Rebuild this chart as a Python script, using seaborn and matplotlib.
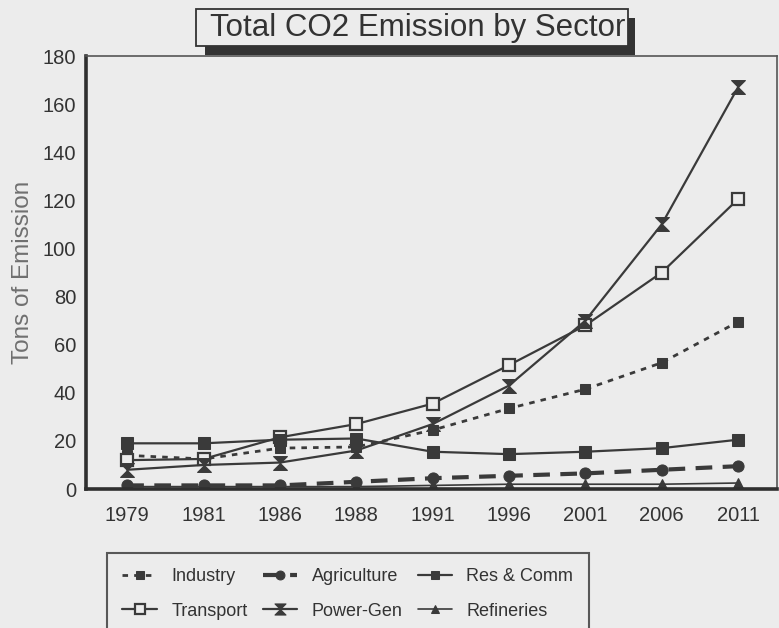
import numpy as np
import pandas as pd
import matplotlib
matplotlib.use('Agg')
import matplotlib.pyplot as plt
from matplotlib.patches import Rectangle
from matplotlib.path import Path
import seaborn as sns

# values
years = ['1979', '1981', '1986', '1988', '1991', '1996', '2001', '2006', '2011']
industry = [14, 12.5, 17, 17.5, 24.5, 33.5, 41.5, 52.5, 69.5]
agriculture = [1.5, 1.5, 1.5, 3, 4.5, 5.5, 6.5, 8, 9.5]
res_comm = [19, 19, 20.5, 21, 15.5, 14.5, 15.5, 17, 20.5]
transport = [12, 12.5, 21.5, 27, 35.5, 51.5, 68, 90, 120.5]
power_gen = [8, 10, 11, 16, 27, 43, 70, 110, 167]
refineries = [1, 1, 1, 1, 1.5, 2, 2, 2, 2.5]
y_ticks = [0, 20, 40, 60, 80, 100, 120, 140, 160, 180]

BG = '#ececec'
INK = '#3a3a3a'

sns.set_style('white')
plt.rcParams['font.family'] = ['Liberation Sans', 'DejaVu Sans']

hourglass = Path([(-1, 1), (1, 1), (-1, -1), (1, -1), (-1, 1)],
                 [Path.MOVETO, Path.LINETO, Path.LINETO, Path.LINETO, Path.CLOSEPOLY])

series = [
    ('Industry', industry, dict(marker='s', markersize=7, linestyle=(0, (2, 2.2)), linewidth=2)),
    ('Transport', transport, dict(marker='s', markersize=9, markerfacecolor=BG, markeredgewidth=1.6, linestyle='-', linewidth=1.6)),
    ('Agriculture', agriculture, dict(marker='o', markersize=8, linestyle=(0, (4, 2.5)), linewidth=3)),
    ('Power-Gen', power_gen, dict(marker=hourglass, markersize=10, linestyle='-', linewidth=1.6)),
    ('Res & Comm', res_comm, dict(marker='s', markersize=8, linestyle='-', linewidth=1.6)),
    ('Refineries', refineries, dict(marker='^', markersize=7, linestyle='-', linewidth=1.2)),
]

fig = plt.figure(figsize=(7.79, 6.28), dpi=100, facecolor=BG)
ax = fig.add_axes([0.1104, 0.2213, 0.887, 0.6895])
ax.set_facecolor(BG)

xpos = np.arange(len(years))
for name, vals, style in series:
    sns.lineplot(x=xpos, y=vals, ax=ax, color=INK, markeredgecolor=INK, label=name, **style)

ax.set_xlim(-0.54, 8.51)
ax.set_ylim(0, 180)
ax.set_xticks(xpos)
ax.set_xticklabels(years)
ax.set_yticks(y_ticks)
ax.tick_params(axis='both', labelsize=14.5, colors='#333333', length=4, width=1, direction='out', pad=3)
ax.tick_params(axis='x', pad=8)
ax.set_xlabel('')
ax.set_ylabel('Tons of Emission', fontsize=17.5, color='#707070', labelpad=6)

for side in ['left', 'bottom']:
    ax.spines[side].set_color('#2f2f2f')
    ax.spines[side].set_linewidth(2.6)
for side in ['top', 'right']:
    ax.spines[side].set_color('#555555')
    ax.spines[side].set_linewidth(1.2)

handles, labels = ax.get_legend_handles_labels()
ax.get_legend().remove()
leg = fig.legend(handles, labels, ncol=3, loc='upper left', bbox_to_anchor=(0.1374, 0.1194),
                 fontsize=13, frameon=True, fancybox=False, facecolor=BG, edgecolor='#333333',
                 handlelength=1.9, handletextpad=0.8, columnspacing=0.85, labelspacing=0.95,
                 borderpad=0.85, borderaxespad=0, markerscale=0.8)
leg.get_frame().set_linewidth(1.5)
for t in leg.get_texts():
    t.set_color('#333333')

# title box with drop shadow
W, H = 779.0, 628.0
fig.patches.append(Rectangle((205 / W, 1 - 55 / H), 430 / W, 37 / H, transform=fig.transFigure,
                             facecolor='#333333', edgecolor='none', zorder=1))
fig.patches.append(Rectangle((196 / W, 1 - 46 / H), 432 / W, 37 / H, transform=fig.transFigure,
                             facecolor=BG, edgecolor='#333333', linewidth=1.3, zorder=2))
fig.text(418 / W, 1 - 28 / H, 'Total CO2 Emission by Sector', ha='center', va='center',
         fontsize=22.5, color='#333333', zorder=3)

fig.savefig('out.png', dpi=100, facecolor=BG)
